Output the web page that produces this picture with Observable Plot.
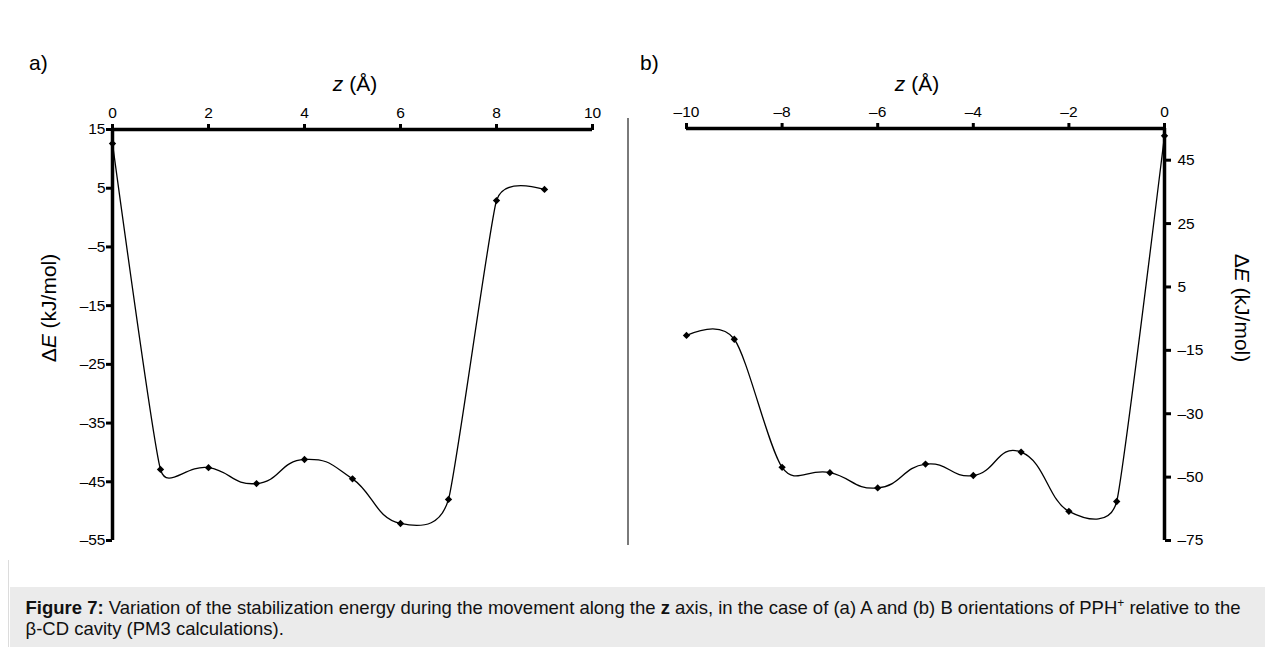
<!DOCTYPE html>
<html>
<head>
<meta charset="utf-8">
<script src="https://cdn.jsdelivr.net/npm/d3@7"></script>
<script src="https://cdn.jsdelivr.net/npm/@observablehq/plot@0.6"></script>
<style>
  html, body { margin: 0; padding: 0; background: #fff; overflow: hidden; }
  body { width: 1265px; height: 647px; position: relative; font-family: "Liberation Sans", Arial, sans-serif; }
  .frame { position: absolute; left: 8px; top: 13px; width: 1300px; height: 700px; border-top: 1.5px solid #dcdcdc; border-left: 1.5px solid #dcdcdc; }
  .panel { position: absolute; top: 0; }
  .panel svg text { font-family: "Liberation Sans", Arial, sans-serif !important; font-size: 15.5px !important; fill: #000; }
  .lbl { position: absolute; font-size: 21px; color: #000; white-space: nowrap; line-height: 1; }
  .sep { position: absolute; left: 627px; top: 118px; width: 1.5px; height: 427px; background: #7a7a7a; }
  .caption { position: absolute; left: 9.5px; top: 587px; width: 1260px; height: 60px; background: #ebebeb; box-sizing: border-box; padding: 10px 0 0 16px; font-size: 18.5px; line-height: 21px; color: #111; }
  .caption sup { font-size: 12px; line-height: 0; }
</style>
</head>
<body>
<div class="frame"></div>
<div id="left" class="panel" style="left:0px"></div>
<div id="right" class="panel" style="left:627px"></div>
<div class="sep"></div>

<div class="lbl" style="left:29px; top:52px;">a)</div>
<div class="lbl" style="left:640px; top:52px;">b)</div>
<div class="lbl" style="left:355px; top:83px; transform:translate(-50%,-50%);"><i>z</i> (Å)</div>
<div class="lbl" style="left:917px; top:83px; transform:translate(-50%,-50%);"><i>z</i> (Å)</div>
<div class="lbl" style="left:48px; top:308px; transform:translate(-50%,-50%) rotate(-90deg);">Δ<i>E</i> (kJ/mol)</div>
<div class="lbl" style="left:1242px; top:308px; transform:translate(-50%,-50%) rotate(90deg);">Δ<i>E</i> (kJ/mol)</div>

<div class="caption"><b>Figure 7:</b> Variation of the stabilization energy during the movement along the <b>z</b> axis, in the case of (a) A and (b) B orientations of PPH<sup>+</sup> relative to the<br>β-CD cavity (PM3 calculations).</div>

<script>
// ---- Data: panel (a), A orientation ----
const zA = [0, 1, 2, 3, 4, 5, 6, 7, 8, 9];
const energyA = [12.6, -42.9, -42.6, -45.3, -41.2, -44.5, -52.1, -48.0, 2.9, 4.8];

// ---- Data: panel (b), B orientation ----
const zB = [-10, -9, -8, -7, -6, -5, -4, -3, -2, -1, 0];
const energyB = [-10.3, -11.5, -51.9, -53.6, -58.4, -50.9, -54.5, -47.1, -65.8, -62.7, 52.7];

// ---- Ticks ----
const xTicksA = [0, 2, 4, 6, 8, 10];
const xTickLabelsA = ["0", "2", "4", "6", "8", "10"];
const yTicksA = [15, 5, -5, -15, -25, -35, -45, -55];
const yTickLabelsA = ["15", "5", "–5", "–15", "–25", "–35", "–45", "–55"];

const xTicksB = [-10, -8, -6, -4, -2, 0];
const xTickLabelsB = ["–10", "–8", "–6", "–4", "–2", "0"];
const yTicksB = [45, 25, 5, -15, -35, -55, -75];
const yTickLabelsB = ["45", "25", "5", "–15", "–30", "–50", "–75"];

const dataA = zA.map((z, i) => ({z, e: energyA[i]}));
const dataB = zB.map((z, i) => ({z, e: energyB[i]}));

const fmt = (ticks, labels) => { const m = new Map(ticks.map((t, i) => [t, labels[i]])); return d => m.get(d) ?? ""; };

// Spreadsheet-style smoothed line (a d3 curve factory): Bezier segments whose
// control arms follow the neighbour-to-neighbour direction; the arm length is
// limited by the shorter adjacent segment, and end arms lean on the inner arm.
function smoothCurve(context) {
  const K = 0.48, END = 0.25;
  let pts = [];
  return {
    areaStart() {}, areaEnd() {},
    lineStart() { pts = []; },
    point(x, y) { pts.push([+x, +y]); },
    lineEnd() {
      const n = pts.length;
      if (!n) return;
      context.moveTo(pts[0][0], pts[0][1]);
      if (n === 1) return;
      if (n === 2) { context.lineTo(pts[1][0], pts[1][1]); return; }
      const dist = (a, b) => Math.hypot(b[0] - a[0], b[1] - a[1]);
      const ctrl = [];
      for (let i = 1; i < n - 1; i++) {
        const a = pts[i - 1], p = pts[i], b = pts[i + 1];
        const dx = b[0] - a[0], dy = b[1] - a[1], L = Math.hypot(dx, dy) || 1;
        const arm = Math.min(dist(a, p), dist(p, b)) * K;
        ctrl[i] = [[p[0] - dx / L * arm, p[1] - dy / L * arm], [p[0] + dx / L * arm, p[1] + dy / L * arm]];
      }
      for (let i = 0; i < n - 1; i++) {
        const p = pts[i], q = pts[i + 1];
        let c1 = i > 0 ? ctrl[i][1] : null;
        let c2 = i + 1 < n - 1 ? ctrl[i + 1][0] : null;
        if (!c1) c1 = [p[0] + (c2[0] - p[0]) * END, p[1] + (c2[1] - p[1]) * END];
        if (!c2) c2 = [q[0] + (c1[0] - q[0]) * END, q[1] + (c1[1] - q[1]) * END];
        context.bezierCurveTo(c1[0], c1[1], c2[0], c2[1], q[0], q[1]);
      }
    }
  };
}

const fontStyle = {fontFamily: "Liberation Sans, Arial, sans-serif", fontSize: "15.5px", color: "#000", background: "#fff", overflow: "visible"};

const plotA = Plot.plot({
  width: 627, height: 560,
  marginLeft: 112, marginRight: 35, marginTop: 129, marginBottom: 20,
  style: fontStyle,
  x: {domain: [0, 10]},
  y: {domain: [-55, 15]},
  marks: [
    Plot.axisX({anchor: "top", ticks: xTicksA, tickFormat: fmt(xTicksA, xTickLabelsA), tickSize: 6, tickPadding: 6, strokeWidth: 3, label: null}),
    Plot.axisY({anchor: "left", ticks: yTicksA, tickFormat: fmt(yTicksA, yTickLabelsA), tickSize: 6, tickPadding: 1, strokeWidth: 3, label: null}),
    Plot.ruleY([15], {stroke: "#000", strokeWidth: 3.5}),
    Plot.ruleX([0], {stroke: "#000", strokeWidth: 3.5}),
    Plot.line(dataA, {x: "z", y: "e", curve: smoothCurve, stroke: "#000", strokeWidth: 1.3}),
    Plot.dot(dataA, {x: "z", y: "e", symbol: "diamond2", r: 3.3, fill: "#000", stroke: null})
  ]
});
document.getElementById("left").append(plotA);

const plotB = Plot.plot({
  width: 638, height: 560,
  marginLeft: 59, marginRight: 101, marginTop: 128, marginBottom: 20,
  style: fontStyle,
  x: {domain: [-10, 0]},
  y: {domain: [-75, 55]},
  marks: [
    Plot.axisX({anchor: "top", ticks: xTicksB, tickFormat: fmt(xTicksB, xTickLabelsB), tickSize: 6, tickPadding: 6, strokeWidth: 3, label: null}),
    Plot.axisY({anchor: "right", ticks: yTicksB, tickFormat: fmt(yTicksB, yTickLabelsB), tickSize: 6, tickPadding: 7, strokeWidth: 3, label: null}),
    Plot.ruleY([55], {stroke: "#000", strokeWidth: 3.5}),
    Plot.ruleX([0], {stroke: "#000", strokeWidth: 3.5}),
    Plot.line(dataB, {x: "z", y: "e", curve: smoothCurve, stroke: "#000", strokeWidth: 1.3}),
    Plot.dot(dataB, {x: "z", y: "e", symbol: "diamond2", r: 3.3, fill: "#000", stroke: null})
  ]
});
document.getElementById("right").append(plotB);
</script>
</body>
</html>
